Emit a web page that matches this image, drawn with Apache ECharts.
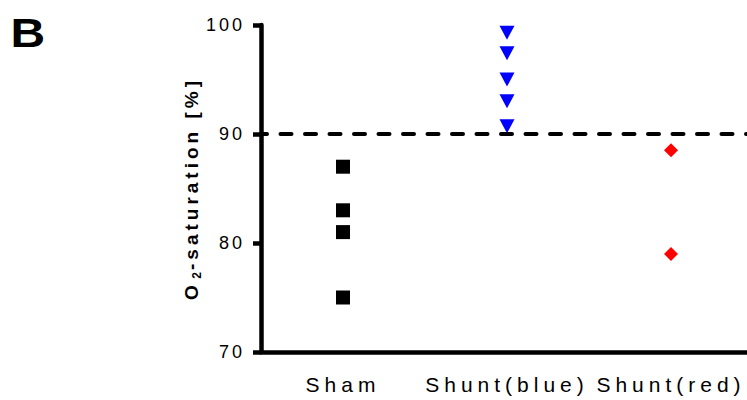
<!DOCTYPE html>
<html>
<head>
<meta charset="utf-8">
<script src="https://cdn.jsdelivr.net/npm/echarts@6/dist/echarts.min.js"></script>
<style>
  html, body { margin: 0; padding: 0; background: #fff; overflow: hidden; }
  /* the x axis runs slightly past the right edge of the window */
  #chart { width: 753px; height: 400px; }
</style>
</head>
<body>
<div id="chart"></div>
<script>
// Group names along the x axis
const categories = ['Sham', 'Shunt(blue)', 'Shunt(red)'];

// O2 saturation (%) per animal
const shamValues = [87, 83, 81, 75];
const shuntBlueValues = [99.3, 97.4, 95.0, 93.0, 90.7];
const shuntRedValues = [88.5, 79.0];

// Reference threshold (dashed line)
const thresholdValue = 90;

// Y axis range
const yMin = 70;
const yMax = 100;
const yStep = 10;

const FONT = 'Liberation Sans, Arial, sans-serif';

// Letter spacing (px) applied to SVG text by font size
const LETTER_SPACING = { 18: 3, 21: 5, 19: 4 };

function pairs(cat, values) {
  return values.map(function (v) { return [cat, v]; });
}

const chart = echarts.init(document.getElementById('chart'), null, { renderer: 'svg' });

chart.setOption({
  animation: false,
  backgroundColor: '#ffffff',
  textStyle: { fontFamily: FONT },
  graphic: [{
    type: 'text',
    x: 10.5,
    y: 13,
    scaleX: 1.2,
    style: { text: 'B', font: 'bold 40px ' + FONT, fill: '#000', textVerticalAlign: 'top' }
  }],
  grid: { left: 261, top: 25, width: 492, height: 327, containLabel: false },
  xAxis: {
    type: 'category',
    data: categories,
    boundaryGap: true,
    axisLine: { lineStyle: { color: '#000', width: 4.5 } },
    axisTick: { show: false },
    splitLine: { show: false },
    axisLabel: { color: '#000', fontSize: 21, fontFamily: FONT, margin: 22 }
  },
  yAxis: {
    type: 'value',
    min: yMin,
    max: yMax,
    interval: yStep,
    name: '{o|O}{s|2}{t|-saturation [%]}',
    nameLocation: 'middle',
    nameGap: 58,
    nameTextStyle: {
      rich: {
        o: { fontSize: 19, fontWeight: 'bold', fontFamily: FONT, color: '#000', width: 19, lineHeight: 24, verticalAlign: 'middle' },
        s: { fontSize: 12, fontWeight: 'bold', fontFamily: FONT, color: '#000', width: 11, lineHeight: 24, verticalAlign: 'bottom' },
        t: { fontSize: 19, fontWeight: 'bold', fontFamily: FONT, color: '#000', width: 193, lineHeight: 24, verticalAlign: 'middle' }
      }
    },
    axisLine: { show: true, lineStyle: { color: '#000', width: 4.5 } },
    axisTick: { show: true, length: 8, lineStyle: { color: '#000', width: 4.5 } },
    splitLine: { show: false },
    axisLabel: { color: '#000', fontSize: 18, fontFamily: FONT, margin: 16, padding: [8, 0, 0, 0] }
  },
  series: [
    {
      name: 'Sham',
      type: 'scatter',
      data: pairs(categories[0], shamValues),
      symbol: 'rect',
      symbolSize: 14,
      itemStyle: { color: '#000000', opacity: 1 },
      markLine: {
        silent: true,
        symbol: 'none',
        label: { show: false },
        lineStyle: { color: '#000', width: 4, type: [11, 13.5], dashOffset: 4.5, cap: 'round', opacity: 1 },
        data: [{ yAxis: thresholdValue }]
      },
      z: 3
    },
    {
      name: 'Shunt(blue)',
      type: 'scatter',
      data: pairs(categories[1], shuntBlueValues),
      symbol: 'triangle',
      symbolRotate: 180,
      symbolSize: [15, 14],
      itemStyle: { color: '#0000ff', opacity: 1 },
      z: 2
    },
    {
      name: 'Shunt(red)',
      type: 'scatter',
      data: pairs(categories[2], shuntRedValues),
      symbol: 'diamond',
      symbolSize: [14, 14],
      itemStyle: { color: '#ff0000', opacity: 1 },
      z: 2
    }
  ]
});

function spaceLetters() {
  document.querySelectorAll('#chart text').forEach(function (t) {
    const fs = Math.round(parseFloat(getComputedStyle(t).fontSize));
    const ls = LETTER_SPACING[fs];
    if (ls) t.setAttribute('letter-spacing', ls);
  });
}
chart.on('finished', spaceLetters);
spaceLetters();
</script>
</body>
</html>
